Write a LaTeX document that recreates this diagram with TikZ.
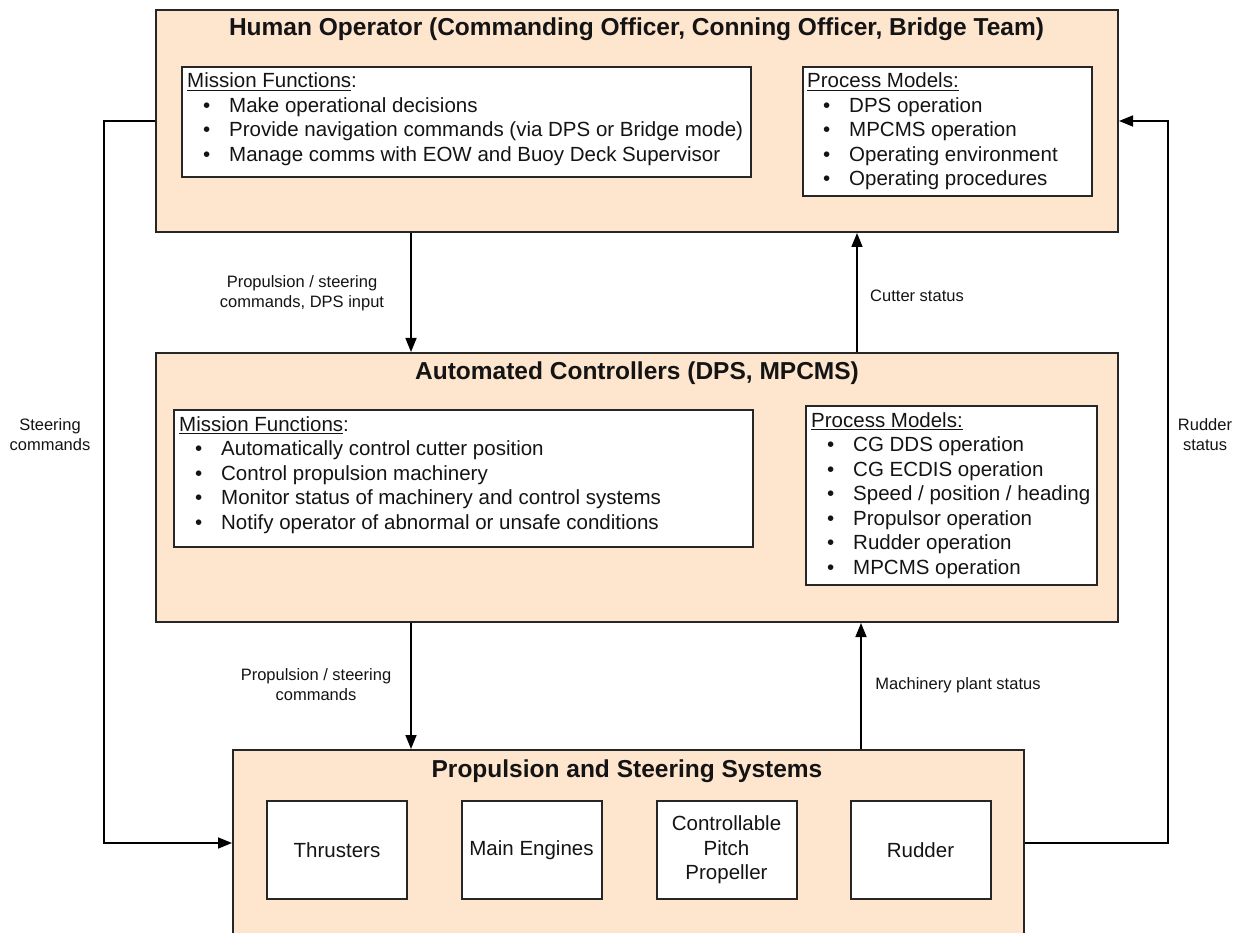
\documentclass[tikz,border=0pt]{standalone}
\usepackage{fontspec}
\setmainfont{Liberation Sans}
\usetikzlibrary{arrows.meta}

\definecolor{peach}{RGB}{253,229,206}
\definecolor{edge}{RGB}{38,38,38}
\definecolor{ink}{RGB}{20,20,20}

% underlined heading with a rule of fixed weight
\newcommand\hdr[1]{\setbox0\hbox{#1}\rlap{\rule[-3pt]{\wd0}{1.3pt}}\box0}
% bulleted item, indented under the heading
\newcommand\itm[1]{\hspace*{16pt}\makebox[26pt][l]{\textbullet}#1}

\begin{document}
\begin{tikzpicture}[x=1pt,y=-1pt,
  bigbox/.style={draw=edge, fill=peach, line width=2pt, inner sep=0pt},
  subbox/.style={draw=edge, fill=white, line width=2pt, inner sep=0pt},
  unitbox/.style={draw=edge, fill=white, line width=2pt, inner sep=0pt,
    minimum width=140pt, minimum height=98pt, align=center, text=ink,
    font=\fontsize{20.5}{24.5}\selectfont},
  ttl/.style={anchor=base, inner sep=0pt, text=ink,
    font=\fontsize{24.5}{28}\selectfont\bfseries},
  txt/.style={anchor=base west, inner sep=0pt, text=ink,
    font=\fontsize{20.5}{24.5}\selectfont},
  lbl/.style={align=center, inner sep=0pt, text=ink,
    font=\fontsize{16.5}{20}\selectfont},
  arr/.style={draw=black, line width=1.6pt, -{Triangle[length=14pt,width=11pt]}}
]
\useasboundingbox (0,0) rectangle (1240,933);
\clip (0,0) rectangle (1240,933);
\fill[white] (0,0) rectangle (1240,933);

% ---------- Human operator ----------
\node[bigbox, minimum width=962pt, minimum height=222pt] (ho) at (637,121) {};
\node[ttl] (hot) at (636.5,36) {Human Operator (Commanding Officer, Conning Officer, Bridge Team)};
\node[subbox, minimum width=569pt, minimum height=110pt] (mf1) at (466.5,122) {};
\node[txt] (mf1t) at (187,88) {\begin{tabular}[t]{@{}l@{}}
  \hdr{Mission Functions}:\\
  \itm{Make operational decisions}\\
  \itm{Provide navigation commands (via DPS or Bridge mode)}\\
  \itm{Manage comms with EOW and Buoy Deck Supervisor}
\end{tabular}};
\node[subbox, minimum width=289pt, minimum height=129pt] (pm1) at (947.5,131.5) {};
\node[txt] (pm1t) at (807,88) {\begin{tabular}[t]{@{}l@{}}
  \hdr{Process Models:}\\
  \itm{DPS operation}\\
  \itm{MPCMS operation}\\
  \itm{Operating environment}\\
  \itm{Operating procedures}
\end{tabular}};

% ---------- Automated controllers ----------
\node[bigbox, minimum width=962pt, minimum height=269pt] (ac) at (637,487.5) {};
\node[ttl] (act) at (637,379) {Automated Controllers (DPS, MPCMS)};
\node[subbox, minimum width=579pt, minimum height=137pt] (mf2) at (463.5,478.5) {};
\node[txt] (mf2t) at (179,431) {\begin{tabular}[t]{@{}l@{}}
  \hdr{Mission Functions}:\\
  \itm{Automatically control cutter position}\\
  \itm{Control propulsion machinery}\\
  \itm{Monitor status of machinery and control systems}\\
  \itm{Notify operator of abnormal or unsafe conditions}
\end{tabular}};
\node[subbox, minimum width=291pt, minimum height=179pt] (pm2) at (951.5,495.5) {};
\node[txt] (pm2t) at (811,427) {\begin{tabular}[t]{@{}l@{}}
  \hdr{Process Models:}\\
  \itm{CG DDS operation}\\
  \itm{CG ECDIS operation}\\
  \itm{Speed / position / heading}\\
  \itm{Propulsor operation}\\
  \itm{Rudder operation}\\
  \itm{MPCMS operation}
\end{tabular}};

% ---------- Propulsion and steering systems ----------
\node[bigbox, minimum width=791pt, minimum height=200pt] (ps) at (628.5,850) {};
\node[ttl] (pst) at (627,777) {Propulsion and Steering Systems};
\node[unitbox] (thr) at (337,850) {Thrusters};
\node[unitbox] (me)  at (531.5,850) {Main Engines};
\node[unitbox] (cpp) at (726.5,850) {Controllable\\Pitch\\Propeller};
\node[unitbox] (rud) at (920.5,850) {Rudder};

% ---------- connectors ----------
\coordinate (xl) at (411,0);
\coordinate (xr1) at (857,0);
\coordinate (xr2) at (861,0);
\coordinate (lft) at (104,0);
\coordinate (rgt) at (1168,0);
\coordinate (sy) at (0,843);

\draw[arr] (xl |- ho.south) -- (xl |- ac.north);
\draw[arr] (xr1 |- ac.north) -- (xr1 |- ho.south);
\draw[arr] (xl |- ac.south) -- (xl |- ps.north);
\draw[arr] (xr2 |- ps.north) -- (xr2 |- ac.south);
\draw[arr] (ho.west) -- (lft |- ho.west) -- (lft |- sy) -- (sy -| ps.west);
\draw[arr] (sy -| ps.east) -- (rgt |- sy) -- (rgt |- ho.east) -- (ho.east);

% ---------- connector labels ----------
\node[lbl] (l1) at (302,293) {Propulsion / steering\\commands, DPS input};
\node[lbl] (l2) at (917,296) {Cutter status};
\node[lbl] (l3) at (316,685) {Propulsion / steering\\commands};
\node[lbl] (l4) at (958,685) {Machinery plant status};
\node[lbl] (l5) at (50,435) {Steering\\commands};
\node[lbl] (l6) at (1205,435) {Rudder\\status};
\end{tikzpicture}
\end{document}
